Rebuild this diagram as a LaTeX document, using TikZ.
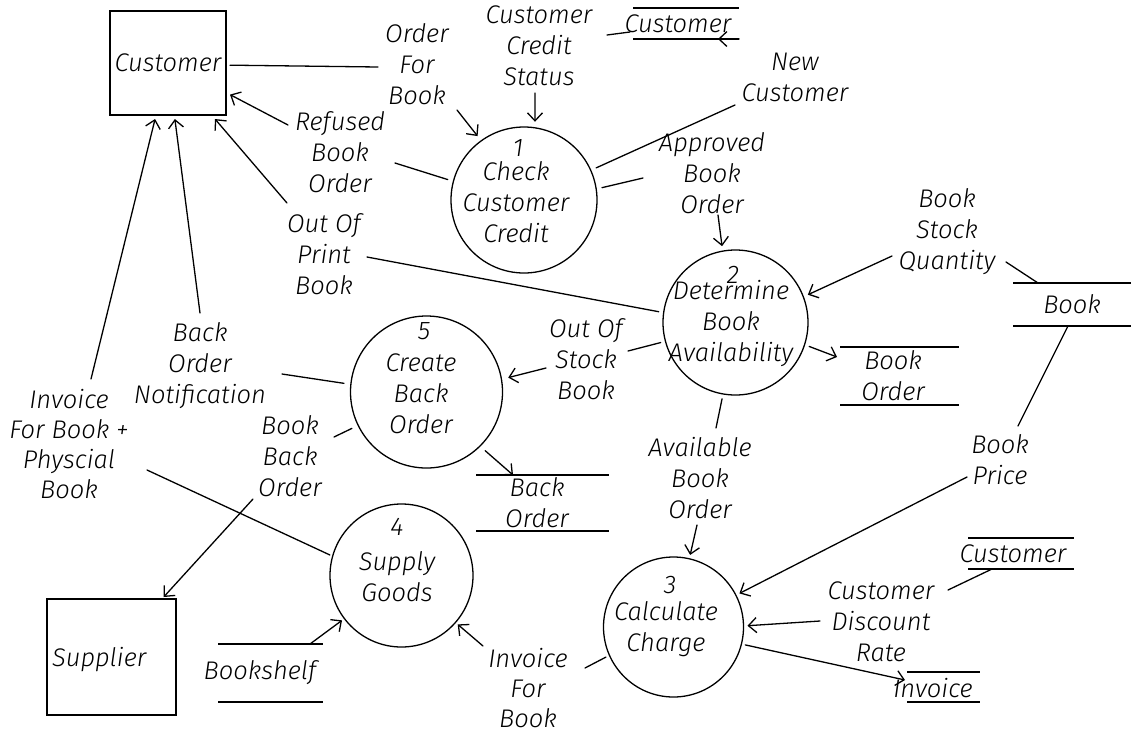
\documentclass[tikz,border=0pt]{standalone}
\usepackage{fontspec}
\setmainfont{Fira Sans}[UprightFont={* Light Italic}]
\usetikzlibrary{arrows.meta}

% A data store: two horizontal rules, corners kept as named coordinates
\newcommand\datastore[5]{%
  \path (#2,#4) coordinate (#1-tl) (#3,#4) coordinate (#1-tr)
        (#2,#5) coordinate (#1-bl) (#3,#5) coordinate (#1-br);
  \draw[storeline] (#1-tl) -- (#1-tr) (#1-bl) -- (#1-br);}

\begin{document}
\begin{tikzpicture}[x=1pt,y=-1pt,
  every node/.style={font=\fontsize{25.5}{31}\selectfont, inner sep=0pt},
  flow/.style={line width=1.3pt, line cap=round},
  arr/.style={flow, -{Straight Barb[length=8pt,width=15pt]}},
  proc/.style={circle, draw, line width=1.3pt, minimum size=#1},
  ext/.style={rectangle, draw, line width=1.5pt},
  storeline/.style={line width=1.3pt},
  lbl/.style={align=center},
  ]
\useasboundingbox (0,0) rectangle (1131,729);

% ---------- external entities ----------
\node[ext, minimum width=116pt, minimum height=104pt, outer sep=4pt] (cust) at (168,63) {Customer};
\node[ext, minimum width=129pt, minimum height=116pt, outer sep=2pt] (supp) at (111.5,657) {};
\node[anchor=west] (suppT) at (52,660) {Supplier};

% ---------- processes ----------
\node[proc=146pt, outer sep=6pt] (p1) at (524,200) {};
\node (p1n) at (518,148) {1};
\node[lbl] (p1t) at (516,202) {Check\\Customer\\Credit};

\node[proc=145pt, outer sep=5pt] (p2) at (735.5,322.5) {};
\node (p2n) at (733,275) {2};
\node[lbl] (p2t) at (731,323) {Determine\\Book\\Availability};

\node[proc=140pt, outer sep=4pt] (p3) at (673.5,627) {};
\node (p3n) at (670,585) {3};
\node[lbl] (p3t) at (666,629) {Calculate\\Charge};

\node[proc=143pt, outer sep=3pt] (p4) at (401.5,575.5) {};
\node (p4n) at (397,527) {4};
\node[lbl] (p4t) at (397,577) {Supply\\Goods};

\node[proc=152pt, outer sep=7pt] (p5) at (426.5,392) {};
\node (p5n) at (424,331) {5};
\node[lbl] (p5t) at (421,394) {Create\\Back\\Order};

% ---------- data stores ----------
\datastore{csA}{633}{739}{8}{39}
\node (csAt) at (678,24) {Customer};
\datastore{bk}{1013}{1131}{283}{326}
\node (bkt) at (1072,304) {Book};
\datastore{bo}{840}{959}{347}{405}
\node[lbl] (bot) at (893,376) {Book\\Order};
\datastore{ba}{476}{609}{475}{531}
\node[lbl] (bat) at (537,503) {Back\\Order};
\datastore{csB}{968}{1074}{538}{569}
\node (csBt) at (1013,554) {Customer};
\datastore{inv}{907}{980}{672}{702}
\node (invt) at (933,688) {Invoice};
\datastore{sh}{218}{323}{644}{702}
\node (sht) at (260,673) {Bookshelf};

% ---------- flow labels ----------
\node[lbl] (lOFB) at (417,64) {Order\\For\\Book};
\node[lbl] (lCCS) at (539,46) {Customer\\Credit\\Status};
\node[lbl] (lNC)  at (795,77) {New\\Customer};
\node[lbl] (lRBO) at (340,152) {Refused\\Book\\Order};
\node[lbl] (lABO) at (712,173) {Approved\\Book\\Order};
\node[lbl] (lOPB) at (324,254) {Out Of\\Print\\Book};
\node[lbl] (lBSQ) at (947,232) {Book\\Stock\\Quantity};
\node[lbl] (lOSB) at (586,359) {Out Of\\Stock\\Book};
\node[lbl] (lAvB) at (700,478) {Available\\Book\\Order};
\node[lbl] (lBP)  at (1000,460) {Book\\Price};
\node[lbl] (lCDR) at (881,622) {Customer\\Discount\\Rate};
\node[lbl, font=\fontsize{25.5}{30}\selectfont] (lIFB) at (528,688) {Invoice\\For\\Book};
\node[lbl] (lBON) at (200,366) {Back\\Order\\Notification};
\node[lbl] (lBBO) at (290,456) {Book\\Back\\Order};
\node[lbl, font=\fontsize{25.5}{30}\selectfont] (lIPB) at (69,444) {Invoice\\For Book +\\Physcial\\Book};

% ---------- free ends of the flows, beside their labels ----------
\coordinate (OFBa) at (378,67);   \coordinate (OFBb) at (457,110);
\coordinate (CCSs) at (630,32);   \coordinate (CCSa) at (607,35);   \coordinate (CCSb) at (535,93);
\coordinate (NCa)  at (735,105);  \coordinate (NCtip) at (718,39);
\coordinate (RBOa) at (395,163);  \coordinate (RBOb) at (288,125);
\coordinate (ABOa) at (643,178);  \coordinate (ABOb) at (718,215);
\coordinate (OPBa) at (367,257);  \coordinate (OPBb) at (287,203);
\coordinate (BSQs) at (1038,283); \coordinate (BSQa) at (1006,262); \coordinate (BSQb) at (892,256);
\coordinate (OSBa) at (628,351);  \coordinate (OSBb) at (546,368);
\coordinate (BOtip) at (837,357);
\coordinate (AvBa) at (716,428);  \coordinate (AvBb) at (697,525);
\coordinate (BPs)  at (1068,326); \coordinate (BPa)  at (1018,426); \coordinate (BPb)  at (967,477);
\coordinate (CDRs) at (992,569);  \coordinate (CDRa) at (948,590);  \coordinate (CDRb) at (820,621);
\coordinate (INVtip) at (905,680);
\coordinate (IFBa) at (585,668);  \coordinate (IFBb) at (483,646);
\coordinate (BAtip) at (513,475);
\coordinate (BONa) at (282,374);  \coordinate (BONb) at (200,313);
\coordinate (BBOa) at (334,437);  \coordinate (BBOb) at (253,499);
\coordinate (IPBa) at (147,470);  \coordinate (IPBb) at (91,379);
\coordinate (SHs)  at (310,644);

% ---------- flows ----------
\draw[flow] (cust.-2) -- (OFBa);     \draw[arr] (OFBb) -- (p1.126);
\draw[flow] (CCSs) -- (CCSa);        \draw[arr] (CCSb) -- (p1.82);
\draw[flow] (p1.24) -- (NCa);        \draw[arr] (csA-br) -- (NCtip);
\draw[flow] (p1.165) -- (RBOa);      \draw[arr] (RBOb) -- (cust.-27);
\draw[flow] (p1.9) -- (ABOa);        \draw[arr] (ABOb) -- (p2.100);
\draw[flow] (p2.172) -- (OPBa);      \draw[arr] (OPBb) -- (cust.-50);
\draw[flow] (BSQs) -- (BSQa);        \draw[arr] (BSQb) -- (p2.21.5);
\draw[flow] (p2.195) -- (OSBa);      \draw[arr] (OSBb) -- (p5.10);
\draw[arr] (p2.-18) -- (BOtip);
\draw[flow] (p2.260) -- (AvBa);      \draw[arr] (AvBb) -- (p3.77);
\draw[flow] (BPs) -- (BPa);          \draw[arr] (BPb) -- (p3.27);
\draw[flow] (CDRs) -- (CDRa);        \draw[arr] (CDRb) -- (p3.1.5);
\draw[arr] (p3.-14) -- (INVtip);
\draw[flow] (p3.204) -- (IFBa);      \draw[arr] (IFBb) -- (p4.-41);
\draw[arr] (p5.-45) -- (BAtip);
\draw[flow] (p5.174) -- (BONa);      \draw[arr] (BONb) -- (cust.-83);
\draw[flow] (p5.206) -- (BBOa);      \draw[arr] (BBOb) -- (supp.49);
\draw[flow] (p4.164) -- (IPBa);      \draw[arr] (IPBb) -- (cust.-103);
\draw[arr] (SHs) -- (p4.217);
\end{tikzpicture}
\end{document}
